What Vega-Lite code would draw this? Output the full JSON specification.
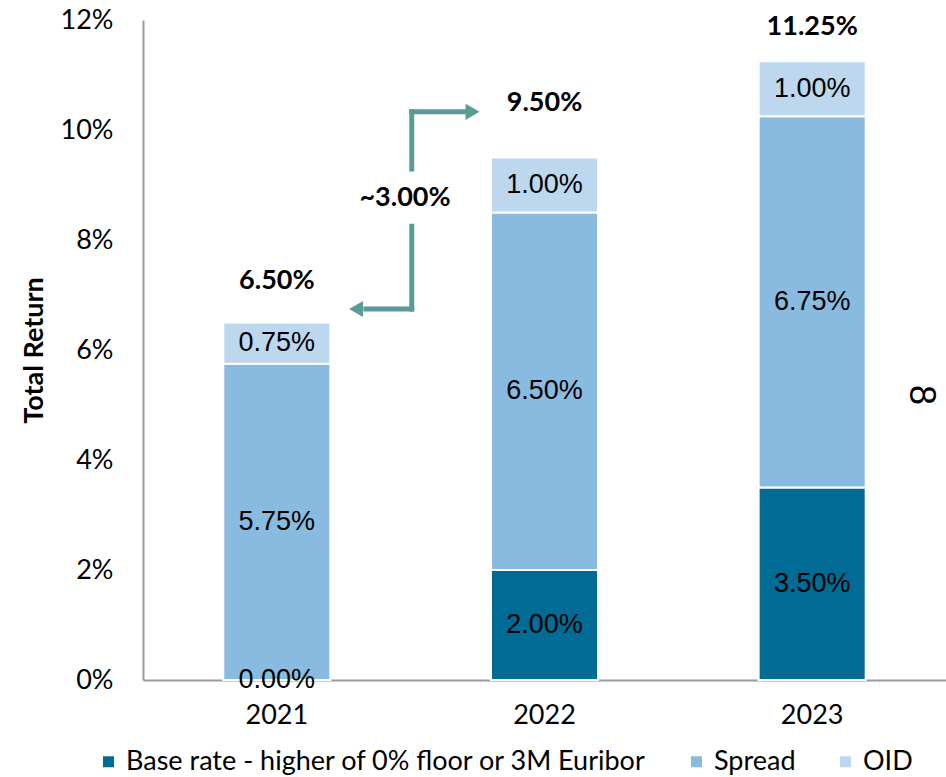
{
  "$schema": "https://vega.github.io/schema/vega-lite/v6.json",
  "width": 803,
  "height": 660,
  "autosize": {"type": "none"},
  "padding": {"left": 143, "top": 20, "right": 0, "bottom": 97},
  "config": {"view": {"stroke": null}, "font": "Lato"},
  "datasets": {
    "seg": [
      {"year": "2021", "component": "Base rate - higher of 0% floor or 3M Euribor", "value": 0.0, "ord": 1},
      {"year": "2021", "component": "Spread", "value": 0.0575, "ord": 2},
      {"year": "2021", "component": "OID", "value": 0.0075, "ord": 3},
      {"year": "2022", "component": "Base rate - higher of 0% floor or 3M Euribor", "value": 0.02, "ord": 1},
      {"year": "2022", "component": "Spread", "value": 0.065, "ord": 2},
      {"year": "2022", "component": "OID", "value": 0.01, "ord": 3},
      {"year": "2023", "component": "Base rate - higher of 0% floor or 3M Euribor", "value": 0.035, "ord": 1},
      {"year": "2023", "component": "Spread", "value": 0.0675, "ord": 2},
      {"year": "2023", "component": "OID", "value": 0.01, "ord": 3}
    ],
    "tot": [
      {"year": "2021", "total": 0.065},
      {"year": "2022", "total": 0.095},
      {"year": "2023", "total": 0.1125}
    ],
    "arrow": [
      {"x": 1.004, "y": 0.0929, "x2": 1.004, "y2": 0.1033},
      {"x": 1.004, "y": 0.1033, "x2": 1.203, "y2": 0.1033},
      {"x": 1.004, "y": 0.0825, "x2": 1.004, "y2": 0.06745},
      {"x": 1.004, "y": 0.06745, "x2": 0.833, "y2": 0.06745}
    ],
    "heads": [
      {"x": 1.231, "y": 0.1033, "dir": "right"},
      {"x": 0.796, "y": 0.06745, "dir": "left"}
    ],
    "notes": [
      {"x": 0.979, "y": 0.0876, "label": "~3.00%", "kind": "diff"},
      {"x": 2.905, "y": 0.0518, "label": "8", "kind": "page"}
    ]
  },
  "layer": [
    {
      "layer": [
        {
          "data": {"name": "seg"},
          "mark": {"type": "bar", "stroke": "white", "strokeWidth": 2},
          "encoding": {
            "x": {
              "field": "year", "type": "ordinal",
              "scale": {"paddingInner": 0.6, "paddingOuter": 0.3},
              "axis": {"title": null, "labelAngle": 0, "labelFont": "Lato", "labelFontSize": 27, "labelColor": "black", "ticks": false, "tickSize": 0, "labelPadding": 22, "domainColor": "#9a9a9a", "domainWidth": 2}
            },
            "y": {
              "field": "value", "type": "quantitative", "stack": "zero",
              "scale": {"domain": [0, 0.12], "nice": false},
              "axis": {"title": "Total Return", "titleFont": "Lato", "titleFontSize": 27, "titleFontWeight": "bold", "titleColor": "black", "titlePadding": 12, "values": [0, 0.02, 0.04, 0.06, 0.08, 0.1, 0.12], "format": ".0%", "labelFont": "Lato", "labelFontSize": 27, "labelColor": "black", "ticks": false, "tickSize": 0, "labelPadding": 30, "grid": false, "domainColor": "#9a9a9a", "domainWidth": 2}
            },
            "color": {
              "field": "component", "type": "nominal",
              "scale": {"domain": ["Base rate - higher of 0% floor or 3M Euribor", "Spread", "OID"], "range": ["#006B94", "#89BADF", "#BDD7EE"]},
              "legend": {"title": null, "orient": "none", "direction": "horizontal", "legendX": -48, "legendY": 728, "symbolType": "square", "symbolSize": 121, "symbolStrokeWidth": 0, "labelFont": "Lato", "labelFontSize": 27, "labelColor": "black", "labelLimit": 0, "columnPadding": 36, "labelOffset": 4}
            },
            "order": {"field": "ord"}
          }
        },
        {
          "data": {"name": "seg"},
          "transform": [
            {"stack": "value", "groupby": ["year"], "sort": [{"field": "ord"}], "as": ["v0", "v1"]},
            {"calculate": "(datum.v0 + datum.v1) / 2", "as": "mid"}
          ],
          "mark": {"type": "text", "font": "Liberation Sans", "fontSize": 27, "color": "black", "baseline": "middle"},
          "encoding": {
            "x": {"field": "year", "type": "ordinal"},
            "y": {"field": "mid", "type": "quantitative"},
            "text": {"field": "value", "type": "quantitative", "format": ".2%"}
          }
        },
        {
          "data": {"name": "tot"},
          "transform": [{"filter": "datum.year == '2021'"}],
          "mark": {"type": "text", "font": "Lato", "fontSize": 27, "fontWeight": "bold", "color": "black", "baseline": "middle", "dy": -42},
          "encoding": {
            "x": {"field": "year", "type": "ordinal"},
            "y": {"field": "total", "type": "quantitative"},
            "text": {"field": "total", "type": "quantitative", "format": ".2%"}
          }
        },
        {
          "data": {"name": "tot"},
          "transform": [{"filter": "datum.year == '2022'"}],
          "mark": {"type": "text", "font": "Lato", "fontSize": 27, "fontWeight": "bold", "color": "black", "baseline": "middle", "dy": -55},
          "encoding": {
            "x": {"field": "year", "type": "ordinal"},
            "y": {"field": "total", "type": "quantitative"},
            "text": {"field": "total", "type": "quantitative", "format": ".2%"}
          }
        },
        {
          "data": {"name": "tot"},
          "transform": [{"filter": "datum.year == '2023'"}],
          "mark": {"type": "text", "font": "Lato", "fontSize": 27, "fontWeight": "bold", "color": "black", "baseline": "middle", "dy": -34},
          "encoding": {
            "x": {"field": "year", "type": "ordinal"},
            "y": {"field": "total", "type": "quantitative"},
            "text": {"field": "total", "type": "quantitative", "format": ".2%"}
          }
        }
      ]
    },
    {
      "layer": [
        {
          "data": {"name": "arrow"},
          "mark": {"type": "rule", "color": "#5A9A97", "strokeWidth": 5, "strokeCap": "square"},
          "encoding": {
            "x": {"field": "x", "type": "quantitative", "scale": {"domain": [0, 3], "nice": false, "zero": false}, "axis": null},
            "y": {"field": "y", "type": "quantitative"},
            "x2": {"field": "x2"},
            "y2": {"field": "y2"}
          }
        },
        {
          "data": {"name": "heads"},
          "mark": {"type": "point", "filled": true, "color": "#5A9A97", "size": 260, "opacity": 1},
          "encoding": {
            "x": {"field": "x", "type": "quantitative"},
            "y": {"field": "y", "type": "quantitative"},
            "shape": {"field": "dir", "type": "nominal", "scale": {"domain": ["right", "left"], "range": ["triangle-right", "triangle-left"]}, "legend": null}
          }
        },
        {
          "data": {"name": "notes"},
          "transform": [{"filter": "datum.kind == 'diff'"}],
          "mark": {"type": "text", "font": "Lato", "fontSize": 27, "fontWeight": "bold", "color": "black", "baseline": "middle"},
          "encoding": {
            "x": {"field": "x", "type": "quantitative"},
            "y": {"field": "y", "type": "quantitative"},
            "text": {"field": "label"}
          }
        },
        {
          "data": {"name": "notes"},
          "transform": [{"filter": "datum.kind == 'page'"}],
          "mark": {"type": "text", "font": "Liberation Sans", "fontSize": 36, "color": "black", "baseline": "middle", "angle": 90},
          "encoding": {
            "x": {"field": "x", "type": "quantitative"},
            "y": {"field": "y", "type": "quantitative"},
            "text": {"field": "label"}
          }
        }
      ]
    }
  ],
  "resolve": {"scale": {"x": "independent"}}
}
